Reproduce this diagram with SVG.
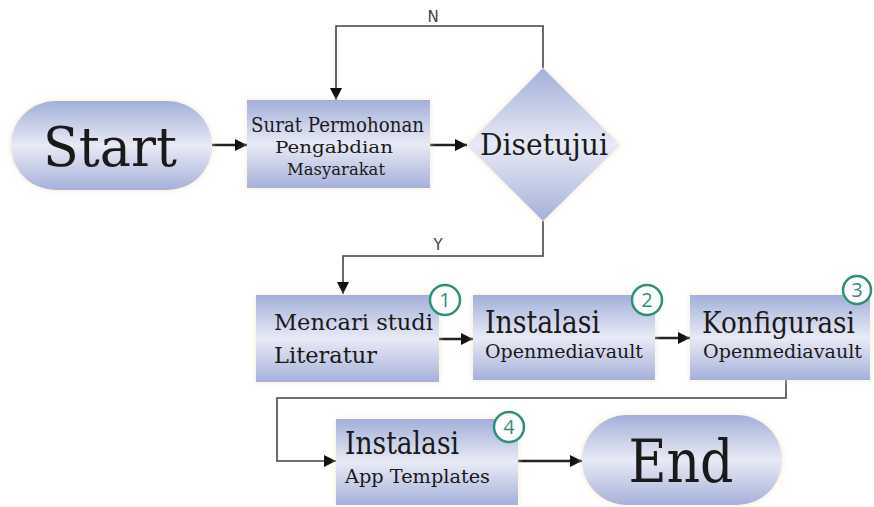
<svg xmlns="http://www.w3.org/2000/svg" width="874" height="507" viewBox="0 0 874 507">
  <defs>
    <linearGradient id="fill" x1="0" y1="0" x2="0" y2="1">
      <stop offset="0" stop-color="#a2afd9"/>
      <stop offset="0.5" stop-color="#e8eaf5"/>
      <stop offset="1" stop-color="#a6b1da"/>
    </linearGradient>
    <filter id="glow" x="-10%" y="-10%" width="120%" height="120%">
      <feDropShadow dx="0" dy="0" stdDeviation="3" flood-color="#f1e4cc" flood-opacity="0.8"/>
    </filter>
    <marker id="arr" markerUnits="userSpaceOnUse" markerWidth="14" markerHeight="12" refX="12" refY="6" orient="auto">
      <path d="M0,0 L12,6 L0,12 Z" fill="#111"/>
    </marker>
  </defs>
  <style>
    .shape { fill: url(#fill); filter: url(#glow); }
    .serif { font-family: "DejaVu Serif", "Liberation Serif", serif; fill: #1a1a1a; }
    .lbl { font-family: "DejaVu Sans", "Liberation Sans", sans-serif; fill: #444; font-size: 15px; }
    .num circle { fill: #ffffff; stroke: #2f8f78; stroke-width: 2.5; }
    .num text { font-family: "Open Sans", "DejaVu Sans", sans-serif; fill: #2f8f78; font-size: 20px; text-anchor: middle; }
    .thin { fill: none; stroke: #444; stroke-width: 1.6; }
    .thick { fill: none; stroke: #222; stroke-width: 2.4; }
  </style>
  <rect width="874" height="507" fill="#ffffff"/>

  <g id="connectors">
    <line class="thick" x1="212" y1="145" x2="247" y2="145" marker-end="url(#arr)"/>
    <line class="thick" x1="430" y1="145" x2="467" y2="145" marker-end="url(#arr)"/>
    <polyline class="thin" points="543,68 543,26 336,26 336,100" marker-end="url(#arr)"/>
    <polyline class="thin" points="543,221 543,256 343,256 343,294" marker-end="url(#arr)"/>
    <line class="thick" x1="439" y1="339" x2="473" y2="339" marker-end="url(#arr)"/>
    <line class="thick" x1="655" y1="338" x2="690" y2="338" marker-end="url(#arr)"/>
    <polyline class="thin" points="786,380 786,398 277,398 277,461 336,461" marker-end="url(#arr)"/>
    <line class="thick" x1="518" y1="461" x2="582" y2="461" marker-end="url(#arr)"/>
    <text class="lbl" x="433" y="22" text-anchor="middle">N</text>
    <text class="lbl" x="438" y="250" text-anchor="middle">Y</text>
  </g>

  <g id="start">
    <rect class="shape" x="11" y="101" width="201" height="89" rx="44.5"/>
    <text class="serif" x="110" y="166" font-size="54" text-anchor="middle" textLength="134" lengthAdjust="spacingAndGlyphs">Start</text>
  </g>

  <g id="surat">
    <rect class="shape" x="247" y="100" width="183" height="88"/>
    <text class="serif" x="337.5" y="132" font-size="20" text-anchor="middle" textLength="173" lengthAdjust="spacingAndGlyphs">Surat Permohonan</text>
    <text class="serif" x="334" y="153" font-size="16" text-anchor="middle" textLength="118" lengthAdjust="spacingAndGlyphs">Pengabdian</text>
    <text class="serif" x="336" y="175" font-size="16" text-anchor="middle" textLength="98" lengthAdjust="spacingAndGlyphs">Masyarakat</text>
  </g>

  <g id="disetujui">
    <polygon class="shape" points="543,68 620,145 543,221 467,145"/>
    <text class="serif" x="544" y="155" font-size="30" text-anchor="middle" textLength="128" lengthAdjust="spacingAndGlyphs">Disetujui</text>
  </g>

  <g id="mencari">
    <rect class="shape" x="256" y="295" width="183" height="87"/>
    <text class="serif" x="274" y="330" font-size="23" textLength="159" lengthAdjust="spacingAndGlyphs">Mencari studi</text>
    <text class="serif" x="274" y="363" font-size="23" textLength="103" lengthAdjust="spacingAndGlyphs">Literatur</text>
    <g class="num"><circle cx="445" cy="300" r="15"/><text x="445" y="307">1</text></g>
  </g>

  <g id="instalasi-omv">
    <rect class="shape" x="473" y="295" width="182" height="85"/>
    <text class="serif" x="485" y="333" font-size="31" textLength="115" lengthAdjust="spacingAndGlyphs">Instalasi</text>
    <text class="serif" x="485" y="358" font-size="18" textLength="158" lengthAdjust="spacingAndGlyphs">Openmediavault</text>
    <g class="num"><circle cx="647" cy="300" r="15"/><text x="647" y="307">2</text></g>
  </g>

  <g id="konfigurasi">
    <rect class="shape" x="690" y="295" width="180" height="85"/>
    <text class="serif" x="702" y="333" font-size="29" textLength="153" lengthAdjust="spacingAndGlyphs">Konfigurasi</text>
    <text class="serif" x="703" y="358" font-size="18" textLength="159" lengthAdjust="spacingAndGlyphs">Openmediavault</text>
    <g class="num"><circle cx="857" cy="290" r="14"/><text x="857" y="297">3</text></g>
  </g>

  <g id="instalasi-app">
    <rect class="shape" x="336" y="419" width="182" height="86"/>
    <text class="serif" x="345" y="454" font-size="31" textLength="114" lengthAdjust="spacingAndGlyphs">Instalasi</text>
    <text class="serif" x="345" y="483" font-size="19" textLength="145" lengthAdjust="spacingAndGlyphs">App Templates</text>
    <g class="num"><circle cx="509" cy="427" r="15"/><text x="509" y="434">4</text></g>
  </g>

  <g id="end">
    <rect class="shape" x="582" y="415" width="200" height="90" rx="45"/>
    <text class="serif" x="681" y="482" font-size="60" text-anchor="middle" textLength="105" lengthAdjust="spacingAndGlyphs">End</text>
  </g>
</svg>
